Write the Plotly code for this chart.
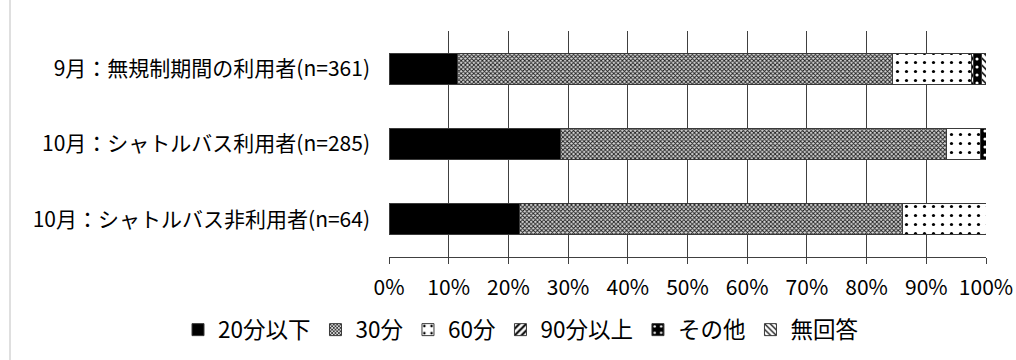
import plotly.graph_objects as go

# Respondent groups (top to bottom)
groups = [
    "9月：無規制期間の利用者(n=361)",
    "10月：シャトルバス利用者(n=285)",
    "10月：シャトルバス非利用者(n=64)",
]

# Share of answers per group, in percent
series_names = ["20分以下", "30分", "60分", "90分以上", "その他", "無回答"]
v_20min = [11.4, 28.8, 21.9]
v_30min = [72.9, 64.6, 64.1]
v_60min = [13.3, 5.6, 14.1]
v_90min = [0.3, 0.0, 0.0]
v_other = [1.4, 1.1, 0.0]
v_noans = [0.8, 0.0, 0.0]

tick_vals = [0, 10, 20, 30, 40, 50, 60, 70, 80, 90, 100]
tick_text = ["0%", "10%", "20%", "30%", "40%", "50%", "60%", "70%", "80%", "90%", "100%"]

FONT = "Noto Sans CJK JP, Noto Sans, sans-serif"

# Plot-area geometry in pixels
W, H = 1016, 360
L, R, T, B = 389, 30, 31, 103
PW, PH = W - L - R, H - T - B

# Monochrome fill patterns for each series
patterns = [
    dict(shape=""),
    dict(shape="x", size=3, solidity=0.5, fgcolor="#1a1a1a", bgcolor="#d8d8d8", fillmode="replace"),
    dict(shape=".", size=9, solidity=0.1, fgcolor="#000000", bgcolor="#ffffff", fillmode="replace"),
    dict(shape="/", size=6, solidity=0.45, fgcolor="#000000", bgcolor="#ffffff", fillmode="replace"),
    dict(shape=".", size=8, solidity=0.12, fgcolor="#ffffff", bgcolor="#000000", fillmode="replace"),
    dict(shape="\\", size=5, solidity=0.3, fgcolor="#000000", bgcolor="#ffffff", fillmode="replace"),
]
values = [v_20min, v_30min, v_60min, v_90min, v_other, v_noans]

fig = go.Figure()
for name, vals, pat in zip(series_names, values, patterns):
    fig.add_trace(go.Bar(
        y=groups, x=vals, name=name, orientation="h",
        marker=dict(color="#ffffff" if pat["shape"] else "#000000",
                    pattern=pat,
                    line=dict(color="#3a3a3a", width=1)),
        hoverinfo="x+name",
    ))

fig.update_layout(
    barmode="stack",
    bargap=0.59,
    width=W, height=H,
    margin=dict(l=L, r=R, t=T, b=B, autoexpand=False),
    paper_bgcolor="#ffffff",
    plot_bgcolor="#ffffff",
    font=dict(family=FONT, size=21, color="#000000"),
    xaxis=dict(
        range=[0, 100], tickvals=tick_vals, ticktext=tick_text,
        showgrid=True, gridcolor="#404040", gridwidth=1,
        showline=True, linecolor="#404040", linewidth=1,
        ticks="outside", ticklen=6, tickcolor="#404040",
        tickfont=dict(size=21), ticklabelstandoff=6,
        zeroline=False, fixedrange=True,
    ),
    yaxis=dict(
        categoryorder="array", categoryarray=groups[::-1],
        showgrid=False, showline=False, ticks="", ticklabelstandoff=18,
        tickfont=dict(size=21), fixedrange=True,
    ),
    legend=dict(
        orientation="h",
        x=(178 - L) / PW, xanchor="left",
        y=(H - B - 330) / PH, yanchor="middle",
        font=dict(size=22.5), itemwidth=30, traceorder="normal",
    ),
    showlegend=True,
)

# Thin frame line along the left edge of the chart area
fig.add_shape(type="line", xref="paper", yref="paper",
              x0=(10 - L) / PW, x1=(10 - L) / PW, y0=-B / PH, y1=1 + T / PH,
              line=dict(color="#bfbfbf", width=1))

fig.write_html("out.html")
